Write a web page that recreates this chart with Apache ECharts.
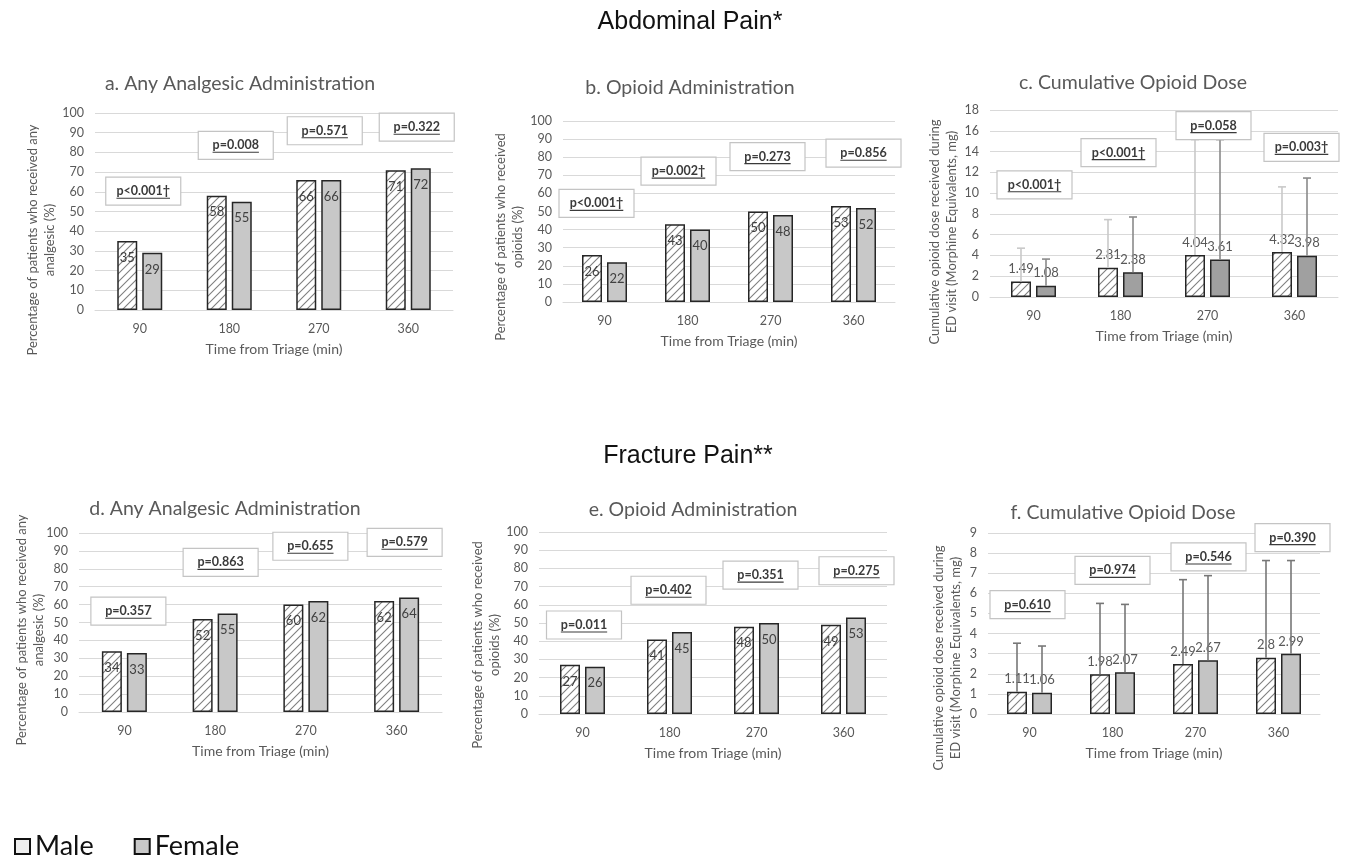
<!DOCTYPE html>
<html><head><meta charset="utf-8">
<script src="https://cdn.jsdelivr.net/npm/echarts/dist/echarts.min.js"></script>
<style>html,body{margin:0;padding:0;background:#fff}#c{width:1346px;height:857px}</style>
</head><body><div id="c"></div>
<script>
// ---------------- DATA ----------------
const categories = ['90', '180', '270', '360'];

// Abdominal pain
const aMale = [35, 58, 66, 71];
const aFemale = [29, 55, 66, 72];
const aP = ['p<0.001†', 'p=0.008', 'p=0.571', 'p=0.322'];
const aPY = [60.3, 83.6, 91, 92.8];

const bMale = [26, 43, 50, 53];
const bFemale = [22, 40, 48, 52];
const bP = ['p<0.001†', 'p=0.002†', 'p=0.273', 'p=0.856'];
const bPY = [54.5, 72.3, 80.3, 82.2];

const cMale = [1.49, 2.81, 4.04, 4.32];
const cFemale = [1.08, 2.38, 3.61, 3.98];
const cMaleUpper = [4.7, 7.45, 15.15, 10.6];
const cFemaleUpper = [3.65, 7.7, 15.15, 11.45];
const cP = ['p<0.001†', 'p<0.001†', 'p=0.058', 'p=0.003†'];
const cPY = [10.8, 13.9, 16.5, 14.4];

// Fracture pain
const dMale = [34, 52, 60, 62];
const dFemale = [33, 55, 62, 64];
const dP = ['p=0.357', 'p=0.863', 'p=0.655', 'p=0.579'];
const dPY = [56.3, 83.6, 92.6, 94.8];

const eMale = [27, 41, 48, 49];
const eFemale = [26, 45, 50, 53];
const eP = ['p=0.011', 'p=0.402', 'p=0.351', 'p=0.275'];
const ePY = [48.9, 68, 76.3, 78.7];

const fMale = [1.11, 1.98, 2.49, 2.8];
const fFemale = [1.06, 2.07, 2.67, 2.99];
const fMaleUpper = [3.52, 5.5, 6.68, 7.63];
const fFemaleUpper = [3.38, 5.45, 6.88, 7.63];
const fP = ['p=0.610', 'p=0.974', 'p=0.546', 'p=0.390'];
const fPY = [5.44, 7.14, 7.81, 8.77];

const xName = 'Time from Triage (min)';
const pctAnyName = 'Percentage of patients who received any\nanalgesic (%)';
const pctOpName = 'Percentage of patients who received\nopioids (%)';
const doseName = 'Cumulative opioid dose received during\nED visit (Morphine Equivalents, mg)';

// ---------------- LAYOUT / STYLE ----------------
const FONT = 'Lato';
const AXC = '#595959';
const panels = [
  {title: 'a. Any Analgesic Administration', yName: pctAnyName, male: aMale, female: aFemale, p: aP, pY: aPY, max: 100, interval: 10,
   grid: {left: 95, top: 113, width: 358, height: 197}, tPos: [240, 86], yPos: [41, 240], pShift: [3.5, 6.5, 6, 8.5], femColor: '#c8c8c8'},
  {title: 'b. Opioid Administration', yName: pctOpName, male: bMale, female: bFemale, p: bP, pY: bPY, max: 100, interval: 10,
   grid: {left: 563, top: 121, width: 332, height: 181}, tPos: [690, 90], yPos: [509, 237], pShift: [-8, -9, -3, 10], femColor: '#c8c8c8'},
  {title: 'c. Cumulative Opioid Dose', yName: doseName, male: cMale, female: cFemale, p: cP, pY: cPY, max: 18, interval: 2,
   grid: {left: 990, top: 110, width: 348, height: 187}, tPos: [1133, 85], yPos: [943, 232], pShift: [1, -2, 6, 7], femColor: '#a0a0a0',
   err: {mu: cMaleUpper, fu: cFemaleUpper, mc: '#c9c9c9', fc: '#8a8a8a'}},
  {title: 'd. Any Analgesic Administration', yName: pctAnyName, male: dMale, female: dFemale, p: dP, pY: dPY, max: 100, interval: 10,
   grid: {left: 79, top: 533, width: 363, height: 179}, tPos: [225, 511], yPos: [30.5, 630], pShift: [4, 5.5, 4.5, 8], femColor: '#c8c8c8'},
  {title: 'e. Opioid Administration', yName: pctOpName, male: eMale, female: eFemale, p: eP, pY: ePY, max: 100, interval: 10,
   grid: {left: 539, top: 532, width: 348, height: 182}, tPos: [693, 512], yPos: [486.5, 645], pShift: [1.5, -1, 4, 13], femColor: '#c8c8c8'},
  {title: 'f. Cumulative Opioid Dose', yName: doseName, male: fMale, female: fFemale, p: fP, pY: fPY, max: 9, interval: 1,
   grid: {left: 988, top: 533, width: 332, height: 181}, tPos: [1123, 515], yPos: [947.5, 658], pShift: [-2, 0, 13, 14], femColor: '#c4c4c4',
   err: {mu: fMaleUpper, fu: fFemaleUpper, mc: '#777777', fc: '#777777'}}
];

function hatch() {
  const s = 8;
  const c = document.createElement('canvas');
  c.width = s; c.height = s;
  const g = c.getContext('2d');
  g.fillStyle = '#ffffff'; g.fillRect(0, 0, s, s);
  g.strokeStyle = '#7f7f7f'; g.lineWidth = 1.1;
  g.beginPath();
  g.moveTo(-1, s + 1); g.lineTo(s + 1, -1);
  g.moveTo(-1, 1); g.lineTo(1, -1);
  g.moveTo(s - 1, s + 1); g.lineTo(s + 1, s - 1);
  g.stroke();
  return c;
}
const hatchImg = hatch();
const measureCtx = document.createElement('canvas').getContext('2d');
const P_FONT = 'bold 12.5px ' + FONT;
measureCtx.font = P_FONT;

const BAR_W = 20, BAR_GAP = 5;
const OFF = (BAR_W + BAR_GAP) / 2;

const grids = [], xAxes = [], yAxes = [], series = [], titles = [], graphics = [];

panels.forEach((pn, gi) => {
  const isDose = !!pn.err;
  grids.push(Object.assign({containLabel: false, outerBoundsMode: 'none'}, pn.grid));
  xAxes.push({
    type: 'category', gridIndex: gi, data: categories,
    axisLine: {show: true, lineStyle: {color: '#d9d9d9', width: 1}},
    axisTick: {show: false},
    axisLabel: {color: AXC, fontSize: 12.5, fontFamily: FONT, margin: 12},
    name: xName, nameLocation: 'middle', nameGap: 32,
    nameTextStyle: {color: AXC, fontSize: 14, fontFamily: FONT}
  });
  yAxes.push({
    type: 'value', gridIndex: gi, min: 0, max: pn.max, interval: pn.interval,
    axisLine: {show: false}, axisTick: {show: false},
    axisLabel: {color: AXC, fontSize: 12.5, fontFamily: FONT, margin: 11},
    splitLine: {show: true, lineStyle: {color: '#d9d9d9', width: 1}}
  });
  const labelCommon = isDose
    ? {show: true, position: 'top', distance: 6, color: AXC, fontSize: 13, fontFamily: FONT}
    : {show: true, position: 'insideTop', distance: 10, color: '#404040', fontSize: 13, fontFamily: FONT};
  series.push({
    type: 'bar', name: 'Male', xAxisIndex: gi, yAxisIndex: gi, data: pn.male,
    barWidth: BAR_W, barGap: (BAR_GAP / BAR_W * 100) + '%', z: 2,
    itemStyle: {color: {image: hatchImg, repeat: 'repeat'}, borderColor: '#262626', borderWidth: 1.5},
    label: labelCommon, emphasis: {disabled: true}
  });
  series.push({
    type: 'bar', name: 'Female', xAxisIndex: gi, yAxisIndex: gi, data: pn.female,
    barWidth: BAR_W, barGap: (BAR_GAP / BAR_W * 100) + '%', z: 2,
    itemStyle: {color: pn.femColor, borderColor: '#262626', borderWidth: 1.5},
    label: labelCommon, emphasis: {disabled: true}
  });
  if (isDose) {
    const errs = [[pn.male, pn.err.mu, -OFF, pn.err.mc], [pn.female, pn.err.fu, OFF, pn.err.fc]];
    errs.forEach(([vals, ups, off, col]) => {
      series.push({
        type: 'custom', xAxisIndex: gi, yAxisIndex: gi, z: 3, silent: true,
        data: vals.map((v, i) => [i, v, ups[i]]),
        renderItem: (params, api) => {
          const a = api.coord([api.value(0), api.value(1)]);
          const b = api.coord([api.value(0), api.value(2)]);
          const x = a[0] + off;
          const st = {stroke: col, lineWidth: 1.6};
          return {type: 'group', children: [
            {type: 'line', shape: {x1: x, y1: a[1], x2: x, y2: b[1]}, style: st},
            {type: 'line', shape: {x1: x - 4, y1: b[1], x2: x + 4, y2: b[1]}, style: st}
          ]};
        }
      });
    });
  }
  // p-value boxes
  series.push({
    type: 'custom', xAxisIndex: gi, yAxisIndex: gi, z: 10, silent: true,
    data: pn.pY.map((y, i) => [i, y]),
    renderItem: (params, api) => {
      const i = params.dataIndex;
      const p = api.coord([api.value(0), api.value(1)]);
      const cx = p[0] + pn.pShift[i], cy = p[1];
      const t = pn.p[i];
      const tw = measureCtx.measureText(t).width;
      const w = 75, h = 28;
      return {type: 'group', children: [
        {type: 'rect', shape: {x: cx - w / 2, y: cy - h / 2, width: w, height: h},
         style: {fill: '#ffffff', stroke: '#c4c4c4', lineWidth: 1.2}},
        {type: 'text', x: cx, y: cy,
         style: {text: t, font: P_FONT, fill: '#3a3a3a', textAlign: 'center', textVerticalAlign: 'middle', align: 'center', verticalAlign: 'middle'}},
        {type: 'line', shape: {x1: cx - tw / 2, y1: cy + 7, x2: cx + tw / 2, y2: cy + 7},
         style: {stroke: '#3a3a3a', lineWidth: 1.1}}
      ]};
    }
  });
  titles.push({
    text: pn.title, left: pn.tPos[0], top: pn.tPos[1] - 12, textAlign: 'center', padding: 0,
    textStyle: {fontSize: 19.5, fontWeight: 'normal', color: AXC, fontFamily: FONT}
  });
  graphics.push({
    type: 'text', x: pn.yPos[0], y: pn.yPos[1], rotation: Math.PI / 2,
    style: {text: pn.yName, font: '13px ' + FONT, fill: AXC, lineHeight: 17,
            textAlign: 'center', textVerticalAlign: 'middle', align: 'center', verticalAlign: 'middle'}
  });
});

titles.push({text: 'Abdominal Pain*', left: 690, top: 10, textAlign: 'center', padding: 0,
  textStyle: {fontSize: 25, fontWeight: 'normal', color: '#111', fontFamily: 'Liberation Sans'}});
titles.push({text: 'Fracture Pain**', left: 688, top: 444, textAlign: 'center', padding: 0,
  textStyle: {fontSize: 25, fontWeight: 'normal', color: '#111', fontFamily: 'Liberation Sans'}});

const chart = echarts.init(document.getElementById('c'), null, {renderer: 'canvas'});
chart.setOption({
  backgroundColor: '#ffffff',
  animation: false,
  title: titles,
  grid: grids,
  xAxis: xAxes,
  yAxis: yAxes,
  series: series,
  graphic: graphics,
  tooltip: {show: false},
  legend: {
    left: 9, top: 828, icon: 'rect', itemWidth: 15, itemHeight: 15, itemGap: 40,
    textStyle: {fontSize: 27, color: '#111', fontFamily: FONT},
    data: [
      {name: 'Male', itemStyle: {color: '#eeeeee', borderColor: '#111', borderWidth: 2}},
      {name: 'Female', itemStyle: {color: '#c8c8c8', borderColor: '#111', borderWidth: 2}}
    ]
  }
});
</script>
</body></html>
